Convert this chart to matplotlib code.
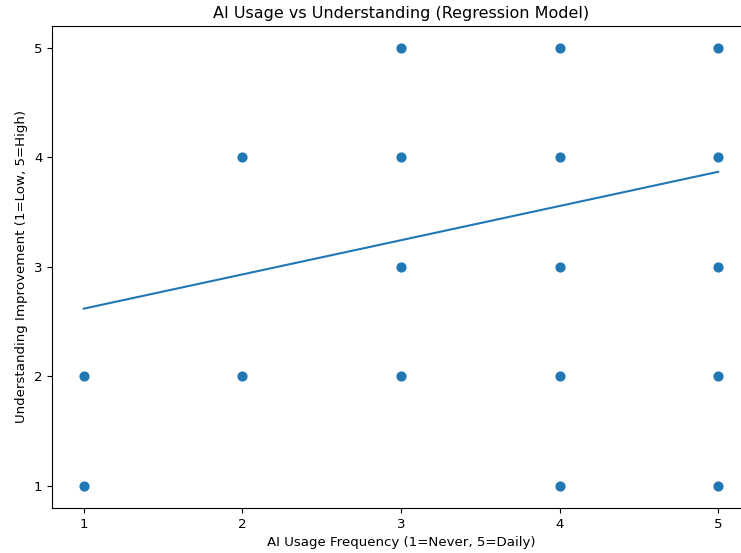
import numpy as np
import matplotlib.pyplot as plt

# AI usage (x) vs understanding improvement (y)
ai_usage = [1, 1, 2, 2, 3, 3, 3, 3, 4, 4, 4, 4, 4, 5, 5, 5, 5, 5]
understanding = [1, 2, 2, 4, 2, 3, 4, 5, 1, 2, 3, 4, 5, 1, 2, 3, 4, 5]
ticks = [1, 2, 3, 4, 5]

# regression line
line_intercept = 2.307
line_slope = 0.3125

x = np.array(ai_usage)
pred = line_intercept + line_slope * x

plt.rcParams['font.size'] = 9.6

fig = plt.figure(figsize=(7.41, 5.53), dpi=100)
ax = fig.add_axes([0.0702, 0.0816, 0.9418, 0.8712])
ax.scatter(x, understanding, s=40)
ax.plot(x, pred)
ax.set_title("AI Usage vs Understanding (Regression Model)", fontsize=11.5)
ax.set_xlabel("AI Usage Frequency (1=Never, 5=Daily)")
ax.set_ylabel("Understanding Improvement (1=Low, 5=High)")
ax.set_xticks(ticks)
ax.set_yticks(ticks)
ax.set_xlim(0.8, 5.2)
ax.set_ylim(0.8, 5.2)
fig.savefig("out.png", dpi=100)
